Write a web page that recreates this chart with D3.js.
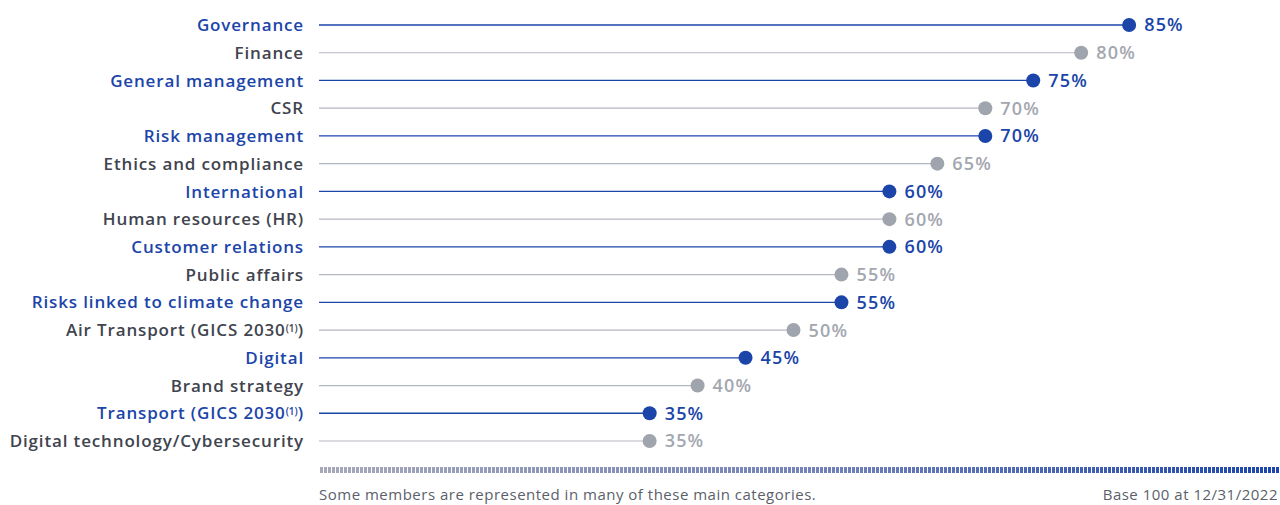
<!DOCTYPE html>
<html>
<head>
  <meta charset="utf-8">
  <title>Skills of board members</title>
  <style>
    body { margin: 0; background: #fff; font-family: "Open Sans", sans-serif; }
    svg text { font-family: "Open Sans", sans-serif; }
  </style>
</head>
<body>
  <svg width="1280" height="505"></svg>
  <script src="https://cdn.jsdelivr.net/npm/d3@7"></script>
  <script>
    // skill categories, top to bottom
    var categories = [
      'Governance', 'Finance', 'General management', 'CSR', 'Risk management',
      'Ethics and compliance', 'International', 'Human resources (HR)',
      'Customer relations', 'Public affairs', 'Risks linked to climate change',
      'Air Transport (GICS 2030|(1)|)', 'Digital', 'Brand strategy',
      'Transport (GICS 2030|(1)|)', 'Digital technology/Cybersecurity'
    ];
    var values = [85, 80, 75, 70, 70, 65, 60, 60, 60, 55, 55, 50, 45, 40, 35, 35];
    // highlighted rows alternate with grey ones
    var highlight = [1, 0, 1, 0, 1, 0, 1, 0, 1, 0, 1, 0, 1, 0, 1, 0];

    var blue = '#1b45a9';
    var svg = d3.select('svg');

    var x = d3.scaleLinear().domain([0, 100]).range([314, 1273]);
    var y = d3.scalePoint().domain(d3.range(categories.length)).range([25, 441]);

    var rows = svg.selectAll('g.row')
      .data(categories)
      .enter().append('g')
      .attr('class', 'row')
      .attr('transform', function(d, i) { return 'translate(0,' + y(i) + ')'; });

    rows.append('line')
      .attr('x1', 319)
      .attr('x2', function(d, i) { return x(values[i]); })
      .attr('stroke', function(d, i) { return highlight[i] ? blue : '#b3b7bf'; })
      .attr('stroke-width', function(d, i) { return highlight[i] ? 1.3 : 1.2; });

    rows.append('circle')
      .attr('cx', function(d, i) { return x(values[i]); })
      .attr('r', 7)
      .attr('fill', function(d, i) { return highlight[i] ? blue : '#a0a4ac'; });

    rows.append('text')
      .attr('x', function(d, i) { return x(values[i]) + 15; })
      .attr('dy', '0.36em')
      .attr('font-size', 18)
      .attr('font-weight', 600)
      .attr('letter-spacing', 1.2)
      .attr('fill', function(d, i) { return highlight[i] ? blue : '#a3a7af'; })
      .text(function(d, i) { return values[i] + '%'; });

    // category labels, with the "(1)" note raised
    var labels = rows.append('text')
      .attr('x', 304)
      .attr('dy', '0.36em')
      .attr('text-anchor', 'end')
      .attr('font-size', 17)
      .attr('font-weight', 600)
      .attr('letter-spacing', 0.85)
      .attr('fill', function(d, i) { return highlight[i] ? blue : '#40444e'; });

    labels.each(function(d) {
      var el = d3.select(this);
      d.split('|').forEach(function(part, k) {
        var t = el.append('tspan').text(part);
        if (k === 1) {
          t.attr('font-size', 10).attr('letter-spacing', 0).attr('baseline-shift', '45%');
        }
      });
    });

    // dashed gradient bar
    var grad = svg.append('defs').append('linearGradient')
      .attr('id', 'barGrad')
      .attr('gradientUnits', 'userSpaceOnUse')
      .attr('x1', 320).attr('x2', 1280).attr('y1', 0).attr('y2', 0);
    grad.append('stop').attr('offset', '0%').attr('stop-color', '#a6a9ba');
    grad.append('stop').attr('offset', '55%').attr('stop-color', '#6f7fb8');
    grad.append('stop').attr('offset', '100%').attr('stop-color', '#1c46ab');

    svg.append('line')
      .attr('x1', 320).attr('x2', 1280)
      .attr('y1', 470).attr('y2', 470)
      .attr('stroke', 'url(#barGrad)')
      .attr('stroke-width', 6)
      .attr('stroke-dasharray', '3,1');

    svg.append('text')
      .attr('x', 319).attr('y', 500)
      .attr('font-size', 15)
      .attr('letter-spacing', 0.5)
      .attr('fill', '#5a5f69')
      .text('Some members are represented in many of these main categories.');

    svg.append('text')
      .attr('x', 1278).attr('y', 500)
      .attr('text-anchor', 'end')
      .attr('font-size', 15)
      .attr('letter-spacing', 0.5)
      .attr('fill', '#5a5f69')
      .text('Base 100 at 12/31/2022');
  </script>
</body>
</html>
